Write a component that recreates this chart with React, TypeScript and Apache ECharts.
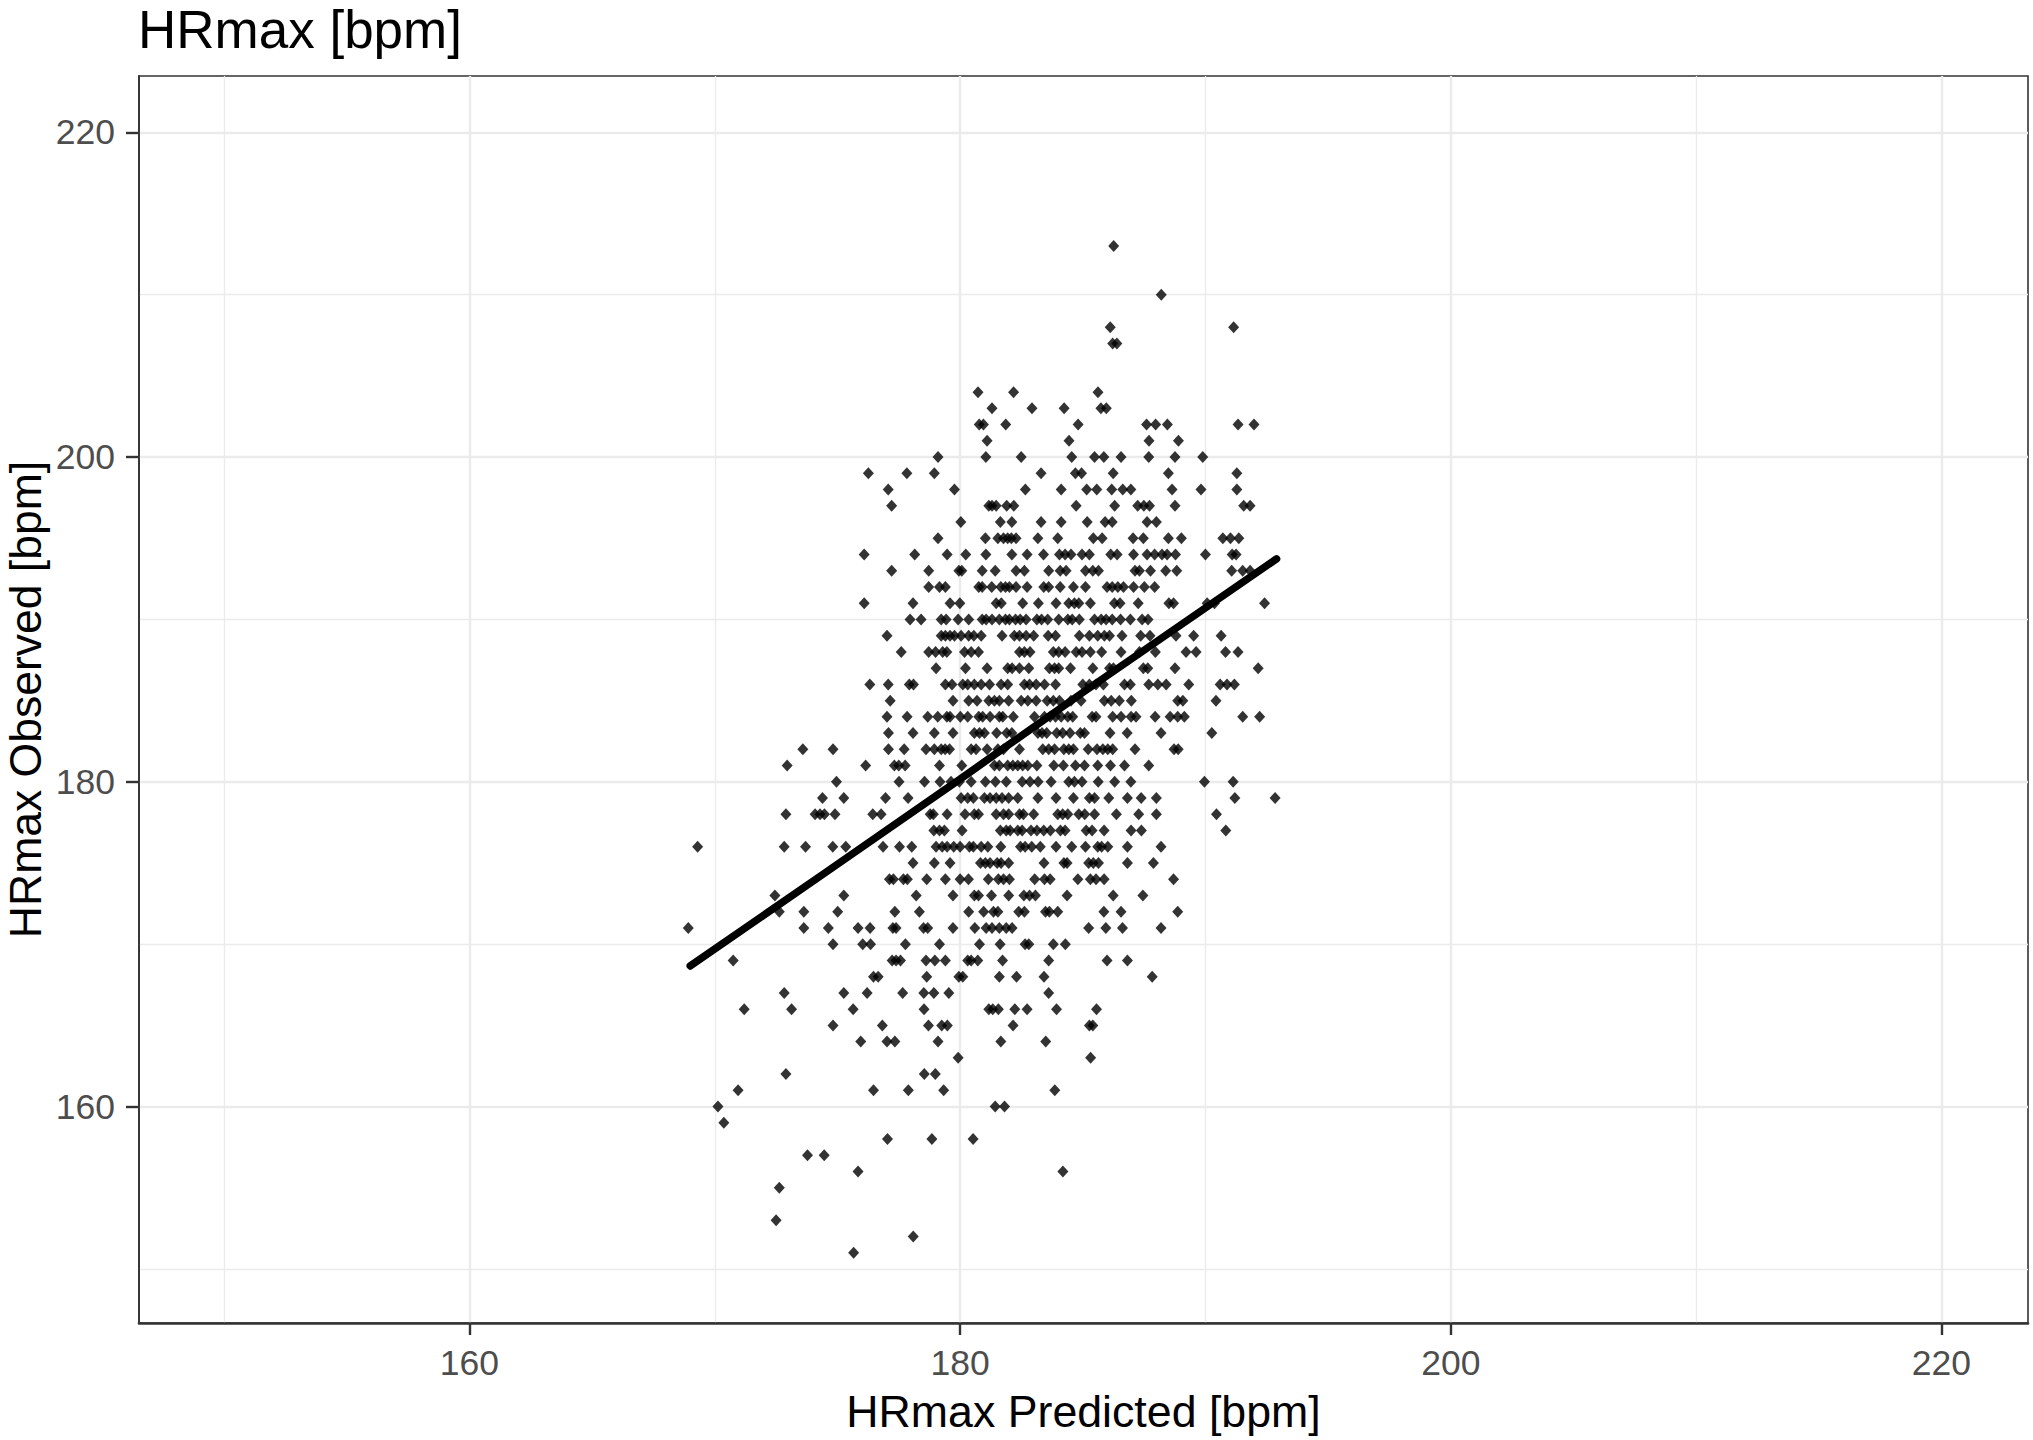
import React, { useEffect, useRef } from "react";
import * as echarts from "echarts";

const titleText = "HRmax [bpm]";
const xAxisTitle = "HRmax Predicted [bpm]";
const yAxisTitle = "HRmax Observed [bpm]";
const majorTicks = [160, 180, 200, 220];
const minorTicks = [150, 170, 190, 210];

const fitX = [169.0, 174.5, 180.0, 185.0, 192.9];
const fitY = [168.66, 174.4, 180.17, 185.5, 193.73];

const row213 = [186.26];
const row210 = [188.2];
const row208 = [186.12, 191.15];
const row207 = [186.22, 186.39];
const row204 = [180.73, 182.18, 185.62];
const row203 = [181.3, 182.93, 184.24, 185.74, 185.96];
const row202 = [180.78, 180.95, 181.86, 184.81, 187.6, 187.97, 188.45, 191.33, 191.98];
const row201 = [181.1, 184.44, 187.7, 188.9];
const row200 = [179.1, 181.05, 182.49, 184.55, 185.48, 185.86, 186.56, 187.69, 188.76, 189.89];
const row199 = [176.26, 177.83, 178.95, 183.3, 184.7, 184.95, 186.24, 188.49, 191.28];
const row198 = [177.07, 179.77, 182.66, 184.12, 185.16, 185.57, 186.18, 186.63, 186.96, 188.64, 189.82, 191.28];
const row197 = [177.21, 181.17, 181.3, 181.47, 181.9, 182.19, 184.73, 186.3, 187.24, 187.49, 187.72, 188.76, 191.56, 191.82];
const row196 = [180.03, 181.64, 182.11, 183.3, 184.12, 185.18, 185.91, 186.2, 187.62, 188.0];
const row195 = [179.1, 181.03, 181.54, 181.77, 181.94, 182.09, 182.28, 183.17, 183.98, 185.43, 185.79, 187.05, 187.47, 188.49, 189.02, 190.71, 191.02, 191.36];
const row194 = [176.09, 178.15, 179.47, 180.23, 181.05, 182.11, 182.73, 183.4, 184.05, 184.28, 184.52, 184.97, 185.27, 186.14, 186.4, 187.07, 187.62, 187.93, 188.23, 188.44, 188.78, 190.0, 191.09, 191.25];
const row193 = [177.21, 178.72, 179.95, 180.07, 180.9, 181.43, 182.28, 182.62, 183.61, 184.08, 184.32, 185.11, 185.41, 185.64, 187.13, 187.31, 187.76, 188.38, 188.83, 191.07, 191.52, 191.82];
const row192 = [178.72, 179.16, 179.4, 180.76, 180.9, 181.29, 181.66, 181.85, 182.01, 182.28, 182.73, 183.41, 183.61, 184.08, 184.62, 185.11, 185.99, 186.2, 186.43, 186.66, 187.07, 187.51, 187.93];
const row191 = [176.09, 178.08, 179.59, 179.99, 181.47, 181.68, 182.55, 183.19, 183.91, 184.43, 184.66, 184.84, 185.31, 186.29, 186.52, 187.26, 188.51, 188.7, 190.07, 190.37, 192.41];
const row190 = [177.96, 178.41, 179.23, 179.43, 179.92, 180.35, 180.9, 181.06, 181.3, 181.6, 181.85, 182.01, 182.26, 182.45, 182.69, 183.13, 183.32, 183.57, 184.02, 184.39, 184.57, 184.86, 185.48, 185.75, 185.95, 186.2, 186.54, 186.94, 187.42, 187.66];
const row189 = [177.02, 179.23, 179.4, 179.59, 179.77, 180.04, 180.35, 180.56, 180.86, 181.71, 182.21, 182.42, 182.69, 183.0, 183.59, 183.89, 184.86, 185.27, 185.61, 185.88, 186.09, 186.6, 187.36, 187.74, 188.8, 189.52, 190.64];
const row188 = [177.6, 178.72, 179.0, 179.29, 179.46, 180.18, 180.45, 180.75, 182.42, 182.62, 182.85, 183.8, 184.02, 184.28, 184.73, 184.97, 185.31, 185.77, 186.56, 187.31, 187.96, 189.21, 189.62, 190.82, 191.33];
const row187 = [179.02, 180.22, 181.1, 181.94, 182.12, 182.42, 182.8, 183.64, 183.85, 184.02, 184.5, 185.41, 186.09, 186.25, 187.47, 187.65, 188.76, 192.15];
const row186 = [176.32, 177.07, 177.93, 178.1, 179.4, 179.67, 180.11, 180.31, 180.58, 180.86, 181.2, 181.67, 181.94, 182.62, 182.83, 183.1, 183.44, 183.89, 185.0, 185.27, 185.54, 185.84, 186.7, 186.94, 187.69, 188.06, 188.4, 189.32, 190.6, 190.88, 191.18];
const row185 = [177.15, 179.71, 180.35, 180.69, 181.17, 181.4, 181.6, 181.98, 182.49, 182.76, 183.1, 183.55, 183.8, 184.05, 184.52, 184.93, 185.88, 186.16, 186.49, 186.98, 188.87, 189.08, 190.43];
const row184 = [177.02, 177.84, 178.68, 179.09, 179.46, 179.59, 180.01, 180.31, 180.76, 180.92, 181.22, 181.6, 181.74, 182.17, 183.03, 183.44, 183.67, 183.89, 184.12, 184.39, 184.59, 185.38, 185.54, 186.22, 186.56, 186.97, 187.17, 187.95, 188.56, 188.87, 189.14, 191.52, 192.21];
const row183 = [177.08, 178.08, 178.95, 179.71, 180.58, 180.79, 180.99, 181.49, 181.9, 182.11, 183.17, 183.34, 183.53, 183.94, 184.18, 184.48, 184.9, 185.07, 186.11, 186.81, 188.19, 190.26];
const row182 = [173.59, 174.82, 177.08, 177.72, 178.61, 178.95, 179.23, 179.39, 179.57, 180.45, 180.65, 181.1, 181.54, 181.77, 182.42, 183.37, 183.61, 183.85, 184.23, 184.43, 184.62, 185.22, 185.58, 185.82, 186.02, 186.22, 187.13, 188.72, 188.89];
const row181 = [172.95, 176.15, 177.32, 177.5, 177.76, 179.16, 180.07, 181.4, 181.6, 181.94, 182.15, 182.35, 182.55, 182.76, 183.13, 183.82, 184.21, 184.7, 185.07, 185.61, 186.13, 186.7, 187.69];
const row180 = [174.96, 177.51, 178.55, 179.18, 179.63, 179.97, 180.45, 181.03, 181.44, 181.88, 182.53, 182.85, 183.18, 183.71, 184.43, 184.66, 184.97, 185.63, 186.3, 186.96, 189.96, 191.13];
const row179 = [174.39, 175.26, 176.96, 177.88, 180.04, 180.31, 180.54, 180.99, 181.22, 181.47, 181.71, 181.98, 182.35, 183.17, 183.91, 184.62, 185.27, 185.48, 186.06, 186.82, 187.38, 188.0, 191.2, 192.84];
const row178 = [172.9, 174.09, 174.29, 174.47, 174.9, 176.44, 176.78, 178.78, 178.91, 179.47, 180.2, 180.58, 180.75, 181.47, 181.77, 181.98, 182.42, 182.58, 183.0, 183.98, 184.18, 184.39, 184.84, 185.08, 185.48, 186.37, 187.28, 188.0, 190.45];
const row177 = [178.93, 179.16, 179.36, 180.08, 181.64, 181.88, 182.04, 182.35, 182.53, 182.89, 183.13, 183.41, 183.68, 184.09, 184.28, 185.14, 185.38, 185.87, 186.97, 187.39, 190.83];
const row176 = [169.3, 172.83, 173.7, 174.81, 175.34, 176.86, 177.53, 178.03, 179.02, 179.27, 179.47, 179.74, 180.0, 180.38, 180.54, 180.86, 181.13, 181.66, 182.46, 182.65, 182.92, 183.27, 183.91, 184.55, 185.11, 185.61, 185.77, 186.02, 186.82, 188.19];
const row175 = [178.08, 178.95, 179.59, 180.83, 181.03, 181.22, 181.51, 181.67, 181.98, 183.42, 184.23, 184.36, 185.24, 185.43, 185.64, 186.82, 187.88];
const row174 = [177.12, 177.28, 177.69, 177.85, 178.64, 179.4, 180.0, 180.34, 181.15, 181.56, 181.77, 182.01, 183.04, 183.44, 183.67, 184.8, 185.31, 185.54, 185.87, 188.7];
const row173 = [172.45, 175.26, 178.21, 179.71, 180.58, 180.75, 181.28, 181.98, 182.6, 182.83, 183.07, 184.36, 186.24, 187.45];
const row172 = [172.63, 173.63, 175.01, 177.34, 178.34, 180.35, 180.96, 181.36, 181.54, 182.39, 182.62, 183.48, 183.64, 183.98, 185.86, 186.56, 188.87];
const row171 = [168.92, 173.63, 174.63, 175.84, 176.33, 177.26, 177.39, 178.51, 178.68, 179.71, 180.6, 181.06, 181.3, 181.6, 181.88, 182.12, 185.24, 185.94, 186.62, 188.19];
const row170 = [174.82, 176.03, 176.35, 177.77, 179.16, 180.79, 181.63, 182.65, 182.8, 183.8, 184.29];
const row169 = [170.75, 177.23, 177.39, 177.57, 178.61, 178.97, 179.4, 180.31, 180.45, 180.72, 181.73, 183.61, 185.99, 186.82];
const row168 = [176.47, 176.66, 178.64, 179.95, 180.11, 181.6, 182.3, 183.42, 187.83];
const row167 = [172.83, 175.26, 176.21, 177.66, 178.52, 178.93, 179.54, 183.61];
const row166 = [171.2, 173.13, 175.64, 178.53, 181.17, 181.33, 181.56, 182.23, 182.73, 183.93, 185.56];
const row165 = [174.82, 176.83, 178.71, 179.25, 179.48, 182.16, 185.27, 185.41];
const row164 = [175.95, 177.02, 177.34, 179.1, 181.66, 183.49];
const row163 = [179.92, 185.32];
const row162 = [172.9, 178.54, 178.99];
const row161 = [170.95, 176.47, 177.89, 179.33, 183.86];
const row160 = [170.13, 181.43, 181.81];
const row159 = [170.37];
const row158 = [177.04, 178.85, 180.53];
const row157 = [173.78, 174.46];
const row156 = [175.84, 184.19];
const row155 = [172.63];
const row153 = [172.5];
const row152 = [178.09];
const row151 = [175.66];

const observedRows: [number, number[]][] = [
  [213, row213], [210, row210], [208, row208], [207, row207], [204, row204], [203, row203],
  [202, row202], [201, row201], [200, row200], [199, row199], [198, row198], [197, row197],
  [196, row196], [195, row195], [194, row194], [193, row193], [192, row192], [191, row191],
  [190, row190], [189, row189], [188, row188], [187, row187], [186, row186], [185, row185],
  [184, row184], [183, row183], [182, row182], [181, row181], [180, row180], [179, row179],
  [178, row178], [177, row177], [176, row176], [175, row175], [174, row174], [173, row173],
  [172, row172], [171, row171], [170, row170], [169, row169], [168, row168], [167, row167],
  [166, row166], [165, row165], [164, row164], [163, row163], [162, row162], [161, row161],
  [160, row160], [159, row159], [158, row158], [157, row157], [156, row156], [155, row155],
  [153, row153], [152, row152], [151, row151],
];

const FONT = "Liberation Sans";

export default function App() {
  const ref = useRef<HTMLDivElement>(null);
  useEffect(() => {
    const chart = echarts.init(ref.current!, undefined, { renderer: "svg" });
    const points: number[][] = [];
    observedRows.forEach(([y, xs]) => xs.forEach((x) => points.push([x, y])));
    const xRange = { min: 146.53, max: 223.53 };
    const yRange = { min: 146.67, max: 223.47 };
    const major = { color: "#ebebeb", width: 2.4, type: "solid" as const };
    const minor = { color: "#ebebeb", width: 1.3, type: "solid" as const };
    chart.setOption({
      animation: false,
      backgroundColor: "#ffffff",
      title: {
        text: titleText,
        left: 138,
        top: 5,
        padding: 0,
        textStyle: { fontFamily: FONT, fontSize: 53, lineHeight: 48, fontWeight: "normal", color: "#000000" },
      },
      grid: {
        left: 139,
        top: 76,
        width: 1889,
        height: 1247,
        show: true,
        backgroundColor: "#ffffff",
        borderColor: "#333333",
        borderWidth: 1.6,
        containLabel: false,
        outerBoundsMode: "none",
      },
      xAxis: [
        {
          type: "value",
          ...xRange,
          position: "bottom",
          name: xAxisTitle,
          nameLocation: "middle",
          nameGap: 66,
          nameMoveOverlap: false,
          nameTextStyle: { fontFamily: FONT, fontSize: 44.7, color: "#000000" },
          axisLine: { show: true, onZero: false, lineStyle: { color: "#333333", width: 2.6 } },
          axisTick: { show: true, length: 12, customValues: majorTicks, lineStyle: { color: "#333333", width: 2.4 } },
          axisLabel: { show: true, margin: 22, customValues: majorTicks, fontFamily: FONT, fontSize: 35.5, color: "#4d4d4d" },
          splitLine: { show: true, lineStyle: major },
        },
        {
          type: "value",
          ...xRange,
          position: "top",
          axisLine: { show: false },
          axisTick: { show: false, customValues: minorTicks },
          axisLabel: { show: false, customValues: minorTicks },
          splitLine: { show: true, lineStyle: minor },
        },
      ],
      yAxis: [
        {
          type: "value",
          ...yRange,
          position: "left",
          name: yAxisTitle,
          nameLocation: "middle",
          nameGap: 91,
          nameMoveOverlap: false,
          nameTextStyle: { fontFamily: FONT, fontSize: 44.5, color: "#000000" },
          axisLine: { show: true, onZero: false, lineStyle: { color: "#333333", width: 1.8 } },
          axisTick: { show: true, length: 13, customValues: majorTicks, lineStyle: { color: "#333333", width: 2.4 } },
          axisLabel: { show: true, margin: 24, customValues: majorTicks, fontFamily: FONT, fontSize: 35.5, color: "#4d4d4d" },
          splitLine: { show: true, lineStyle: major },
        },
        {
          type: "value",
          ...yRange,
          position: "right",
          axisLine: { show: false },
          axisTick: { show: false, customValues: minorTicks },
          axisLabel: { show: false, customValues: minorTicks },
          splitLine: { show: true, lineStyle: minor },
        },
      ],
      series: [
        {
          type: "scatter",
          data: points,
          symbol: "diamond",
          symbolSize: [11, 12],
          itemStyle: { color: "#000000" },
          silent: true,
          z: 3,
        },
        {
          type: "line",
          data: fitX.map((x, i) => [x, fitY[i]]),
          symbol: "none",
          lineStyle: { color: "#000000", width: 7.5, cap: "round" },
          silent: true,
          z: 4,
        },
      ],
    });
    return () => chart.dispose();
  }, []);
  return <div ref={ref} style={{ position: "absolute", left: 0, top: 0, width: 2033, height: 1440 }} />;
}
